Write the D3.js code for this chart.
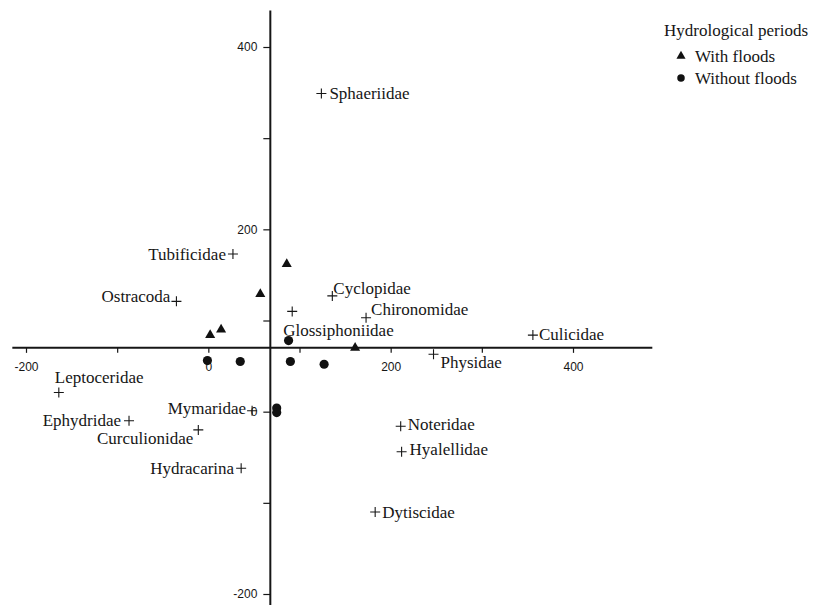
<!DOCTYPE html>
<html>
<head>
<meta charset="utf-8">
<script src="https://cdn.jsdelivr.net/npm/d3@7"></script>
<style>
  html, body { margin: 0; padding: 0; background: #ffffff; }
  svg { display: block; }
</style>
</head>
<body>
<svg id="chart" width="816" height="605"></svg>
<script>
// ---------------- DATA ----------------
const xTicks = [-200, -100, 0, 100, 200, 300, 400];
const yTicks = [-200, -100, 0, 100, 200, 300, 400];
const tickLabelEvery = 200;

// Hydrological periods (site scores)
const withFloodsX = [86, 57, 14, 2, 161];
const withFloodsY = [162, 129, 90, 84, 70];
const withoutFloodsX = [88, -1, 35, 90, 127, 75, 75];
const withoutFloodsY = [78, 56, 55, 55, 52, 4, -1];

// Taxa (species scores)
const taxa = ["Sphaeriidae", "Tubificidae", "Ostracoda", "Cyclopidae", "Chironomidae",
  "Glossiphoniidae", "Culicidae", "Physidae", "Leptoceridae", "Ephydridae",
  "Curculionidae", "Mymaridae", "Hydracarina", "Noteridae", "Hyalellidae", "Dytiscidae"];
const taxaX = [124, 27, -35, 136, 173, 92, 356, 247, -164, -87, -11, 48, 36, 211, 212, 183];
const taxaY = [349, 173, 121, 127, 103, 110, 84, 63, 21, -10, -20, 1, -62, -16, -44, -110];

const legendTitle = "Hydrological periods";
const legendItems = ["With floods", "Without floods"];

// ---------------- LAYOUT / STYLE ----------------
const axisCross = { x: 68, y: 70 };          // where the two axes cross (data units)
const xExtent = [-215, 487];
const yExtent = [-212, 440];
const serif = "'Liberation Serif', 'Times New Roman', serif";
const sans = "'Liberation Sans', Arial, sans-serif";
const ink = "#161616";
const fs = "17px";

// label placement relative to the cross: [anchor, dx, dy]
const labelPlace = {
  "Sphaeriidae": ["start", 8, 0],
  "Tubificidae": ["end", -7, 0],
  "Ostracoda": ["end", -6, -5],
  "Cyclopidae": ["start", 1, -7],
  "Chironomidae": ["start", 5, -8],
  "Glossiphoniidae": ["start", -9, 19],
  "Culicidae": ["start", 6, -1],
  "Physidae": ["start", 7, 8],
  "Leptoceridae": ["start", -4, -15],
  "Ephydridae": ["end", -8, 0],
  "Curculionidae": ["end", -5, 8],
  "Mymaridae": ["end", -6, -2],
  "Hydracarina": ["end", -7, 0],
  "Noteridae": ["start", 7, -2],
  "Hyalellidae": ["start", 8, -2],
  "Dytiscidae": ["start", 7, 0]
};

const svg = d3.select("#chart");
const x = d3.scaleLinear().domain([-200, 400]).range([26, 573]);
const y = d3.scaleLinear().domain([-200, 400]).range([594, 47]);

// ---------------- AXES ----------------
const xAxis = d3.axisBottom(x)
  .tickValues(xTicks)
  .tickFormat(d => d % tickLabelEvery === 0 ? d : "")
  .tickSize(5).tickPadding(10).tickSizeOuter(0);
const yAxis = d3.axisLeft(y)
  .tickValues(yTicks)
  .tickFormat(d => d % tickLabelEvery === 0 ? d : "")
  .tickSize(7).tickPadding(6).tickSizeOuter(0);

const gx = svg.append("g").attr("transform", `translate(0,${y(axisCross.y)})`).call(xAxis);
const gy = svg.append("g").attr("transform", `translate(${x(axisCross.x)},0)`).call(yAxis);
[gx, gy].forEach(g => {
  g.select(".domain").remove();
  g.selectAll(".tick line").attr("stroke", ink).attr("stroke-width", 1.2);
  g.selectAll(".tick text").attr("fill", ink).style("font-family", sans).style("font-size", "12px");
});

svg.append("line")
  .attr("x1", x(xExtent[0])).attr("x2", x(xExtent[1]))
  .attr("y1", y(axisCross.y)).attr("y2", y(axisCross.y))
  .attr("stroke", ink).attr("stroke-width", 2);
svg.append("line")
  .attr("x1", x(axisCross.x)).attr("x2", x(axisCross.x))
  .attr("y1", y(yExtent[1])).attr("y2", y(yExtent[0]))
  .attr("stroke", ink).attr("stroke-width", 2);

// ---------------- TAXA (crosses + labels) ----------------
const cs = 5;
const tg = svg.append("g");
taxa.forEach((name, i) => {
  const cx = x(taxaX[i]), cy = y(taxaY[i]);
  tg.append("path")
    .attr("d", `M${cx - cs},${cy}H${cx + cs}M${cx},${cy - cs}V${cy + cs}`)
    .attr("stroke", ink).attr("stroke-width", 1.1).attr("fill", "none");
  const p = labelPlace[name];
  tg.append("text")
    .attr("x", cx + p[1]).attr("y", cy + p[2])
    .attr("dy", "0.33em")
    .attr("text-anchor", p[0])
    .attr("fill", ink)
    .style("font-family", serif).style("font-size", fs)
    .text(name);
});

// ---------------- SITES ----------------
const tri = d3.symbol().type(d3.symbolTriangle).size(44);
const dot = d3.symbol().type(d3.symbolCircle).size(66);
svg.append("g").selectAll("path")
  .data(withFloodsX.map((v, i) => [v, withFloodsY[i]]))
  .join("path")
  .attr("d", tri)
  .attr("transform", d => `translate(${x(d[0])},${y(d[1])})`)
  .attr("fill", "#111");
svg.append("g").selectAll("path")
  .data(withoutFloodsX.map((v, i) => [v, withoutFloodsY[i]]))
  .join("path")
  .attr("d", dot)
  .attr("transform", d => `translate(${x(d[0])},${y(d[1])})`)
  .attr("fill", "#111");

// ---------------- LEGEND ----------------
const lg = svg.append("g").attr("transform", "translate(664,0)");
lg.append("text").attr("x", 0).attr("y", 30).attr("dy", "0.33em")
  .attr("fill", ink).style("font-family", serif).style("font-size", fs)
  .text(legendTitle);
const legSyms = [d3.symbol().type(d3.symbolTriangle).size(36), d3.symbol().type(d3.symbolCircle).size(44)];
legendItems.forEach((t, i) => {
  const ly = 56 + i * 22;
  lg.append("path").attr("d", legSyms[i]).attr("transform", `translate(17,${ly})`).attr("fill", "#111");
  lg.append("text").attr("x", 31).attr("y", ly).attr("dy", "0.33em")
    .attr("fill", ink).style("font-family", serif).style("font-size", fs)
    .text(t);
});
</script>
</body>
</html>
